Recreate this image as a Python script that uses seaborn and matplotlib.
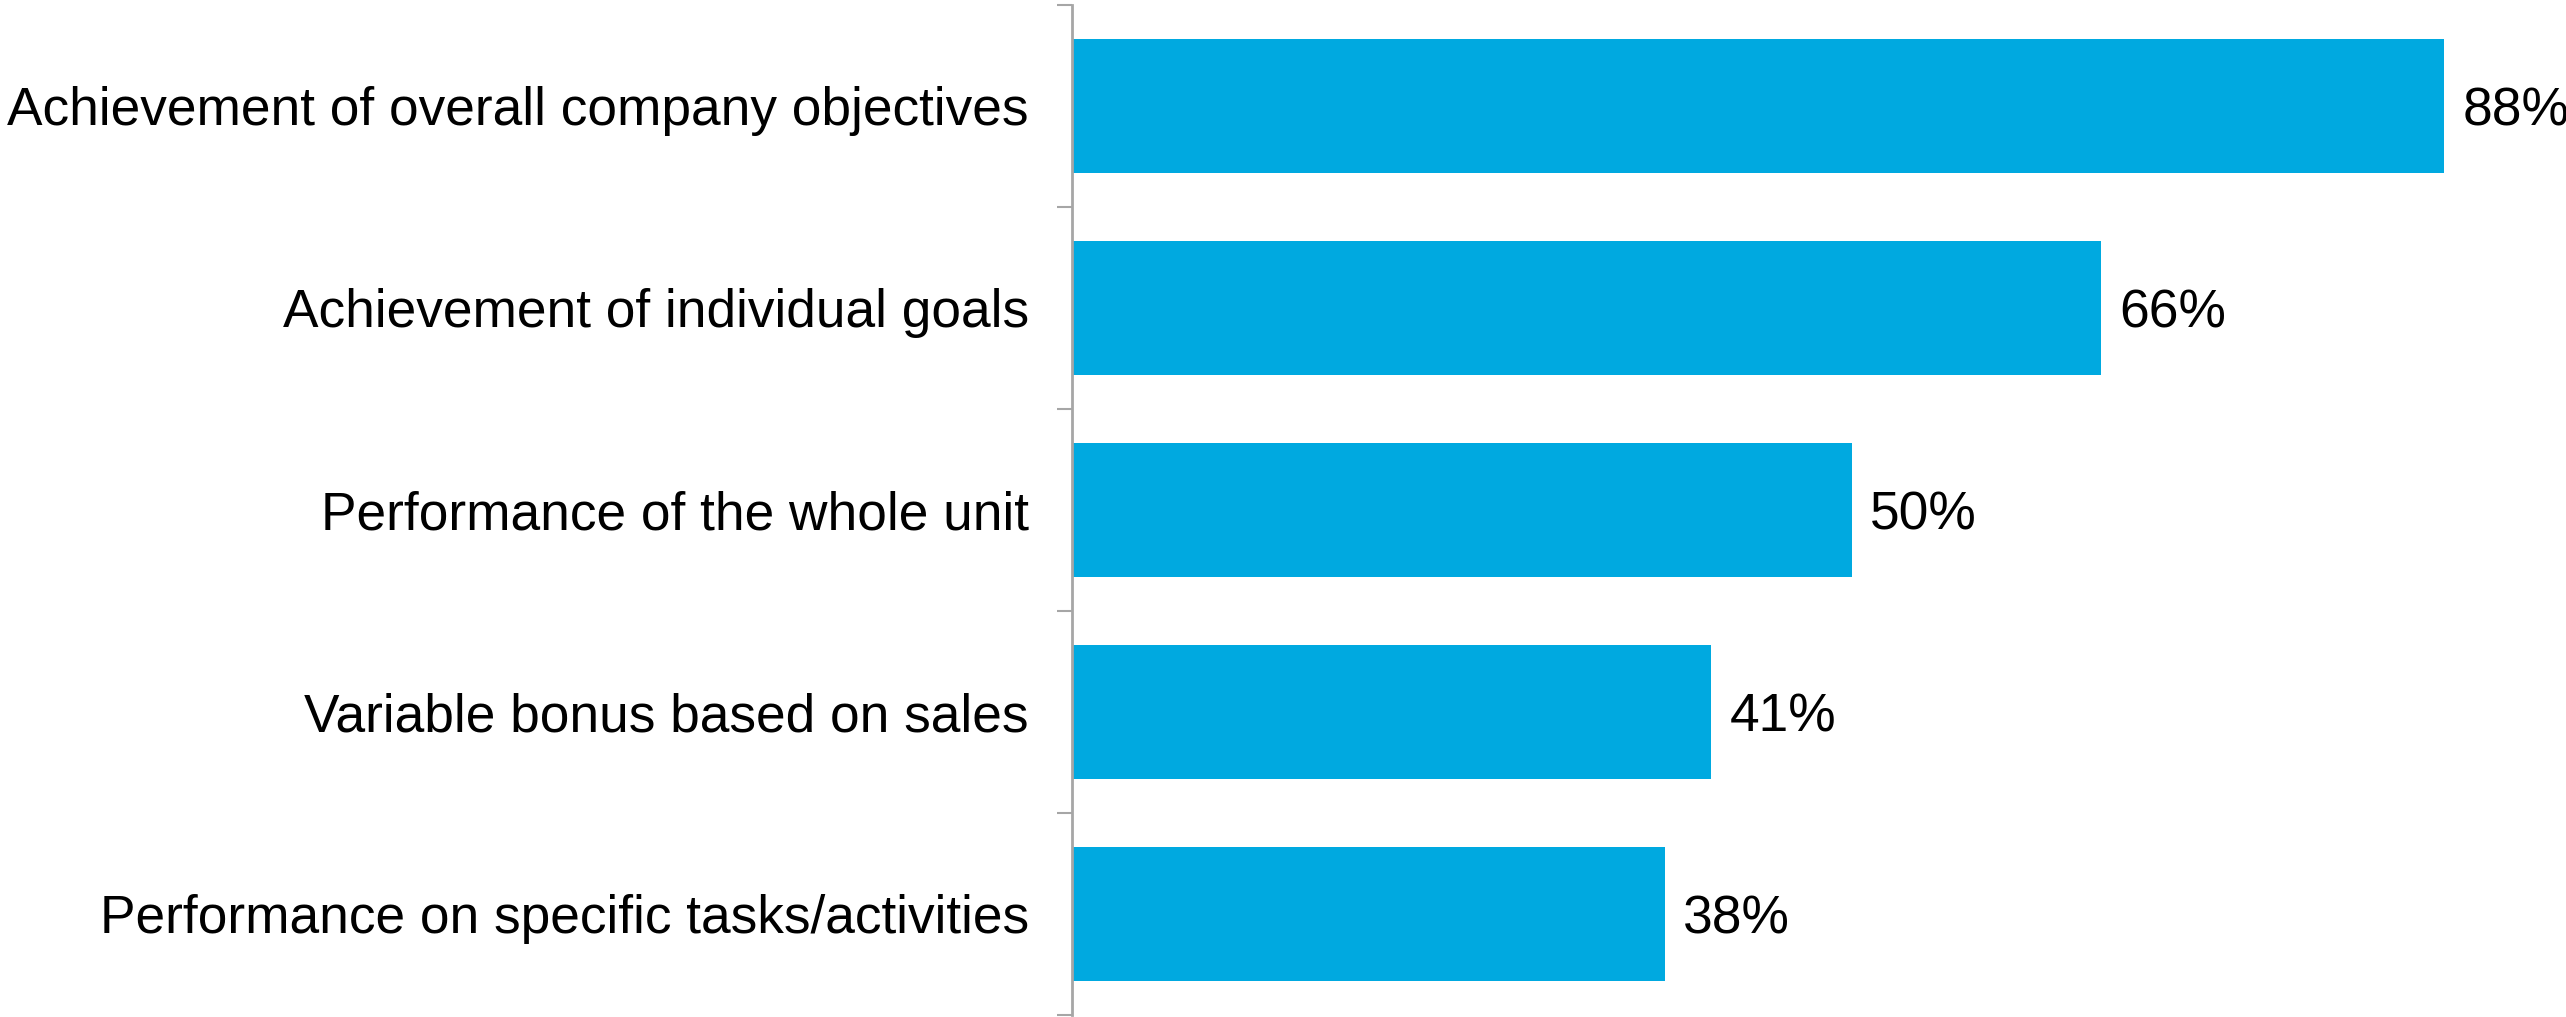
import matplotlib
matplotlib.use("Agg")
import matplotlib.pyplot as plt
import seaborn as sns
import pandas as pd
import numpy as np

categories = [
    "Achievement of overall company objectives",
    "Achievement of individual goals",
    "Performance of the whole unit",
    "Variable bonus based on sales",
    "Performance on specific tasks/activities",
]
values = [88, 66, 50, 41, 38]
value_labels = ["88%", "66%", "50%", "41%", "38%"]

sns.set_theme(style="white")
plt.rcParams["font.family"] = ["Liberation Sans", "DejaVu Sans"]

df = pd.DataFrame({"category": categories, "value": values})

fig = plt.figure(figsize=(25.66, 10.17), dpi=100)
ax = fig.add_axes([1072 / 2566, 2 / 1017, 1 - 1072 / 2566, 1010 / 1017])

sns.barplot(data=df, x="value", y="category", orient="h", color="#00A9E0",
            saturation=1, width=0.665, ax=ax, edgecolor="none")

ax.set_xlim(0, 95.8)
ax.set_ylim(len(categories) - 0.5, -0.5)
ax.set_xlabel("")
ax.set_ylabel("")
ax.set_xticks([])

for sp in ["top", "right", "bottom"]:
    ax.spines[sp].set_visible(False)
ax.spines["left"].set_color("#A6A6A6")
ax.spines["left"].set_linewidth(2.0)

# category labels at bar centres, boundary ticks between categories
ax.set_yticks(range(len(categories)))
ax.set_yticklabels(categories, fontsize=38.3, color="black")
ax.tick_params(axis="y", which="major", left=True, length=0, pad=31)
ax.set_yticks(np.arange(-0.5, len(categories), 1.0), minor=True)
ax.tick_params(axis="y", which="minor", left=True, length=11, width=1.5,
               color="#A6A6A6", direction="out")

for i, (v, lab) in enumerate(zip(values, value_labels)):
    ax.annotate(lab, xy=(v, i), xytext=(13, 0), textcoords="offset points",
                va="center_baseline", ha="left", fontsize=38.3, color="black")

fig.savefig("out.png", dpi=100)
